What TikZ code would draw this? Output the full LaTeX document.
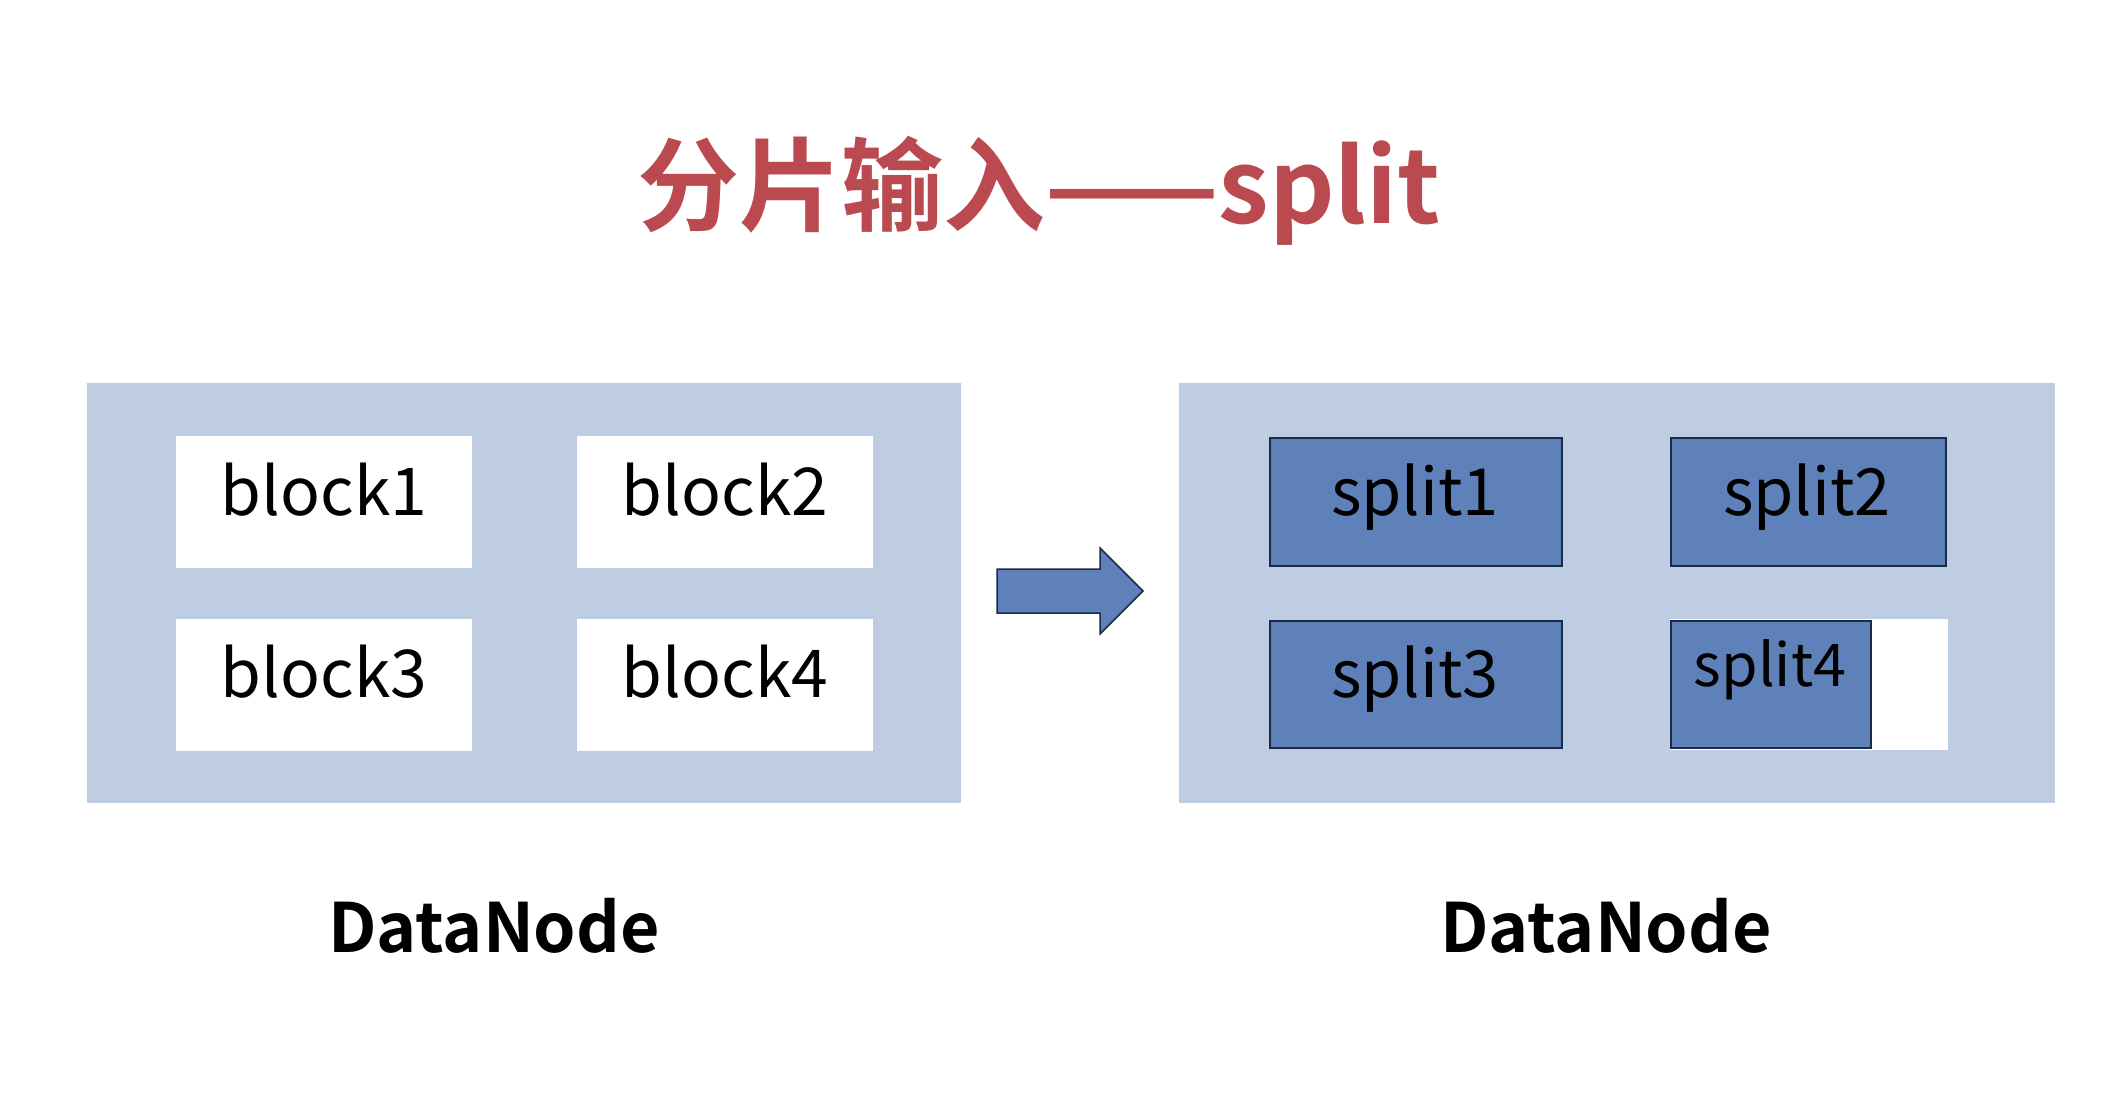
\documentclass[tikz,border=0pt]{standalone}
\usepackage{fontspec}
\setmainfont{Noto Sans CJK SC}
\newfontfamily\cjkbold{Noto Sans CJK SC Bold}
\definecolor{panelblue}{HTML}{BFCDE3}
\definecolor{splitblue}{HTML}{5F81BA}
\definecolor{edgenavy}{HTML}{1C2A45}
\definecolor{titlered}{HTML}{BA4A50}
\tikzset{
  panel/.style={fill=panelblue, draw=none, anchor=north west, inner sep=0pt},
  blockbox/.style={fill=white, draw=none, anchor=north west, inner sep=0pt},
  splitbox/.style={fill=splitblue, draw=edgenavy, line width=2bp, anchor=north west, inner sep=0pt},
  boxtext/.style={anchor=base, inner sep=0pt, font=\fontsize{66bp}{74bp}\selectfont},
  nodelabel/.style={anchor=base, inner sep=0pt, font=\cjkbold\fontsize{68bp}{76bp}\selectfont},
}
\begin{document}
\begin{tikzpicture}[x=1bp,y=-1bp]
\useasboundingbox (0,0) rectangle (2122,1112);
\fill[white] (0,0) rectangle (2122,1112);

% title
\node[inner sep=0pt, text=titlered, font=\cjkbold\fontsize{102bp}{110bp}\selectfont] (title) at (1039,191) {分片输入——split};

% left data node
\node[panel, minimum width=874bp, minimum height=420bp] (leftpanel) at (87,383) {};
\node[blockbox, minimum width=296bp, minimum height=132bp] (b1) at (176,436) {};
\node[blockbox, minimum width=296bp, minimum height=132bp] (b2) at (577,436) {};
\node[blockbox, minimum width=296bp, minimum height=132bp] (b3) at (176,619) {};
\node[blockbox, minimum width=296bp, minimum height=132bp] (b4) at (577,619) {};
\node[boxtext] (t1) at (324,515) {block1};
\node[boxtext] (t2) at (725,515) {block2};
\node[boxtext] (t3) at (324,697) {block3};
\node[boxtext] (t4) at (725,697) {block4};
\node[nodelabel] (dn1) at (494,952) {DataNode};

% block arrow
\filldraw[fill=splitblue, draw=edgenavy, line width=1.5bp, line join=miter]
  (997,569) -- (1100,569) -- (1100,548) -- (1143,591) -- (1100,634) -- (1100,613) -- (997,613) -- cycle;

% right data node
\node[panel, minimum width=876bp, minimum height=420bp] (rightpanel) at (1179,383) {};
\node[splitbox, minimum width=292bp, minimum height=128bp] (s1) at (1269,437) {};
\node[splitbox, minimum width=275bp, minimum height=128bp] (s2) at (1670,437) {};
\node[splitbox, minimum width=292bp, minimum height=127bp] (s3) at (1269,620) {};
\node[blockbox, minimum width=278bp, minimum height=131bp] (s4bg) at (1670,619) {};
\node[splitbox, minimum width=200bp, minimum height=127bp] (s4) at (1670,620) {};
\node[boxtext, font=\fontsize{65bp}{72bp}\selectfont] (u1) at (1415,515) {split1};
\node[boxtext, font=\fontsize{65bp}{72bp}\selectfont] (u2) at (1807,515) {split2};
\node[boxtext, font=\fontsize{65bp}{72bp}\selectfont] (u3) at (1415,697) {split3};
\node[boxtext, font=\fontsize{59bp}{66bp}\selectfont] (u4) at (1770,686) {split4};
\node[nodelabel] (dn2) at (1606,952) {DataNode};
\end{tikzpicture}
\end{document}
